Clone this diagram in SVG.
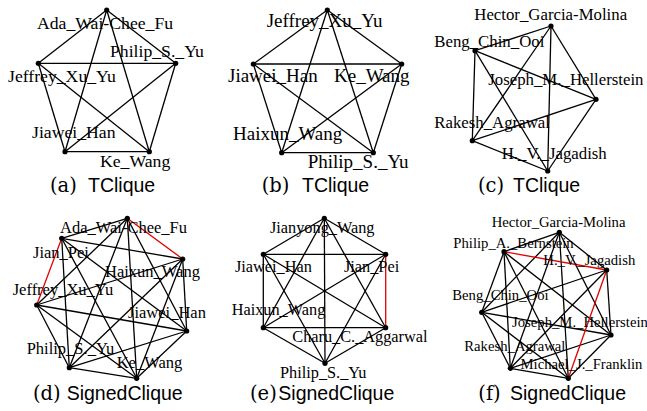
<svg xmlns="http://www.w3.org/2000/svg" width="647" height="411" viewBox="0 0 647 411">
<style>
.e{stroke:#000;stroke-width:1.3;fill:none}
.r{stroke:#e00000;stroke-width:1.3;fill:none}
.n{fill:#000}
text{font-family:"Liberation Serif",serif;fill:#000}
.la{font-size:17.7px}
.lb{font-size:19px}
.lc{font-size:16.8px}
.ld{font-size:16.5px}
.le{font-size:16.3px}
.lf{font-size:14.7px}
.cs{font-family:"DejaVu Serif",serif;font-size:19.5px}
.cn{font-family:"Liberation Sans",sans-serif;font-size:19.5px}
</style>
<rect width="647" height="411" fill="#fff"/>
<g id="connectors">
<!-- a -->
<line class="e" x1="106.7" y1="10" x2="175.7" y2="63.3"/>
<line class="e" x1="106.7" y1="10" x2="38.3" y2="63.3"/>
<line class="e" x1="106.7" y1="10" x2="65" y2="151.7"/>
<line class="e" x1="106.7" y1="10" x2="149.3" y2="151.7"/>
<line class="e" x1="175.7" y1="63.3" x2="38.3" y2="63.3"/>
<line class="e" x1="175.7" y1="63.3" x2="65" y2="151.7"/>
<line class="e" x1="175.7" y1="63.3" x2="149.3" y2="151.7"/>
<line class="e" x1="38.3" y1="63.3" x2="65" y2="151.7"/>
<line class="e" x1="38.3" y1="63.3" x2="149.3" y2="151.7"/>
<line class="e" x1="65" y1="151.7" x2="149.3" y2="151.7"/>
<!-- b -->
<line class="e" x1="327.3" y1="10" x2="401.7" y2="64"/>
<line class="e" x1="327.3" y1="10" x2="253.3" y2="64"/>
<line class="e" x1="327.3" y1="10" x2="281.7" y2="152.7"/>
<line class="e" x1="327.3" y1="10" x2="373.3" y2="152.7"/>
<line class="e" x1="401.7" y1="64" x2="253.3" y2="64"/>
<line class="e" x1="401.7" y1="64" x2="281.7" y2="152.7"/>
<line class="e" x1="401.7" y1="64" x2="373.3" y2="152.7"/>
<line class="e" x1="253.3" y1="64" x2="281.7" y2="152.7"/>
<line class="e" x1="253.3" y1="64" x2="373.3" y2="152.7"/>
<line class="e" x1="281.7" y1="152.7" x2="373.3" y2="152.7"/>
<!-- c -->
<line class="e" x1="551" y1="26" x2="475" y2="50.7"/>
<line class="e" x1="551" y1="26" x2="596" y2="99.3"/>
<line class="e" x1="551" y1="26" x2="472.3" y2="140.7"/>
<line class="e" x1="551" y1="26" x2="547.7" y2="171"/>
<line class="e" x1="475" y1="50.7" x2="596" y2="99.3"/>
<line class="e" x1="475" y1="50.7" x2="472.3" y2="140.7"/>
<line class="e" x1="475" y1="50.7" x2="547.7" y2="171"/>
<line class="e" x1="596" y1="99.3" x2="472.3" y2="140.7"/>
<line class="e" x1="596" y1="99.3" x2="547.7" y2="171"/>
<line class="e" x1="472.3" y1="140.7" x2="547.7" y2="171"/>
<!-- d -->
<line class="e" x1="127.3" y1="218.3" x2="61.7" y2="238.3"/>
<line class="e" x1="127.3" y1="218.3" x2="36.7" y2="305"/>
<line class="e" x1="127.3" y1="218.3" x2="186.7" y2="331"/>
<line class="e" x1="127.3" y1="218.3" x2="69.3" y2="367.7"/>
<line class="e" x1="127.3" y1="218.3" x2="136.7" y2="378.3"/>
<line class="e" x1="61.7" y1="238.3" x2="182.7" y2="259"/>
<line class="e" x1="61.7" y1="238.3" x2="186.7" y2="331"/>
<line class="e" x1="61.7" y1="238.3" x2="69.3" y2="367.7"/>
<line class="e" x1="61.7" y1="238.3" x2="136.7" y2="378.3"/>
<line class="e" x1="182.7" y1="259" x2="36.7" y2="305"/>
<line class="e" x1="182.7" y1="259" x2="186.7" y2="331"/>
<line class="e" x1="182.7" y1="259" x2="69.3" y2="367.7"/>
<line class="e" x1="182.7" y1="259" x2="136.7" y2="378.3"/>
<line class="e" x1="36.7" y1="305" x2="186.7" y2="331"/>
<line class="e" x1="36.7" y1="305" x2="69.3" y2="367.7"/>
<line class="e" x1="36.7" y1="305" x2="136.7" y2="378.3"/>
<line class="e" x1="186.7" y1="331" x2="69.3" y2="367.7"/>
<line class="e" x1="186.7" y1="331" x2="136.7" y2="378.3"/>
<line class="e" x1="69.3" y1="367.7" x2="136.7" y2="378.3"/>
<line class="r" x1="127.3" y1="218.3" x2="182.7" y2="259"/>
<line class="r" x1="61.7" y1="238.3" x2="36.7" y2="305"/>
<!-- e -->
<line class="e" x1="324.3" y1="218.3" x2="263.3" y2="254.3"/>
<line class="e" x1="324.3" y1="218.3" x2="385.7" y2="254.3"/>
<line class="e" x1="324.3" y1="218.3" x2="263.3" y2="327.7"/>
<line class="e" x1="324.3" y1="218.3" x2="385.7" y2="327.7"/>
<line class="e" x1="324.3" y1="218.3" x2="325" y2="363.3"/>
<line class="e" x1="263.3" y1="254.3" x2="385.7" y2="254.3"/>
<line class="e" x1="263.3" y1="254.3" x2="263.3" y2="327.7"/>
<line class="e" x1="263.3" y1="254.3" x2="385.7" y2="327.7"/>
<line class="e" x1="263.3" y1="254.3" x2="325" y2="363.3"/>
<line class="e" x1="385.7" y1="254.3" x2="263.3" y2="327.7"/>
<line class="e" x1="385.7" y1="254.3" x2="325" y2="363.3"/>
<line class="e" x1="263.3" y1="327.7" x2="385.7" y2="327.7"/>
<line class="e" x1="263.3" y1="327.7" x2="325" y2="363.3"/>
<line class="e" x1="385.7" y1="327.7" x2="325" y2="363.3"/>
<line class="r" x1="385.7" y1="254.3" x2="385.7" y2="327.7"/>
<!-- f -->
<line class="e" x1="559.3" y1="232.3" x2="504" y2="251.7"/>
<line class="e" x1="559.3" y1="232.3" x2="606.7" y2="270"/>
<line class="e" x1="559.3" y1="232.3" x2="481.7" y2="312.3"/>
<line class="e" x1="559.3" y1="232.3" x2="611" y2="335"/>
<line class="e" x1="559.3" y1="232.3" x2="510.3" y2="368.3"/>
<line class="e" x1="559.3" y1="232.3" x2="568.3" y2="378.3"/>
<line class="e" x1="504" y1="251.7" x2="481.7" y2="312.3"/>
<line class="e" x1="504" y1="251.7" x2="611" y2="335"/>
<line class="e" x1="504" y1="251.7" x2="510.3" y2="368.3"/>
<line class="e" x1="504" y1="251.7" x2="568.3" y2="378.3"/>
<line class="e" x1="606.7" y1="270" x2="481.7" y2="312.3"/>
<line class="e" x1="606.7" y1="270" x2="611" y2="335"/>
<line class="e" x1="606.7" y1="270" x2="510.3" y2="368.3"/>
<line class="e" x1="481.7" y1="312.3" x2="611" y2="335"/>
<line class="e" x1="481.7" y1="312.3" x2="510.3" y2="368.3"/>
<line class="e" x1="481.7" y1="312.3" x2="568.3" y2="378.3"/>
<line class="e" x1="611" y1="335" x2="510.3" y2="368.3"/>
<line class="e" x1="611" y1="335" x2="568.3" y2="378.3"/>
<line class="e" x1="510.3" y1="368.3" x2="568.3" y2="378.3"/>
<line class="r" x1="504" y1="251.7" x2="606.7" y2="270"/>
<line class="r" x1="606.7" y1="270" x2="568.3" y2="378.3"/>
</g>
<!-- panel a -->
<g id="a-ada"><circle class="n" cx="106.7" cy="10" r="2.6"/><text class="la" x="37" y="29">Ada_Wai-Chee_Fu</text></g>
<g id="a-philip"><circle class="n" cx="175.7" cy="63.3" r="2.6"/><text class="la" x="110" y="57">Philip_S._Yu</text></g>
<g id="a-jeffrey"><circle class="n" cx="38.3" cy="63.3" r="2.6"/><text class="la" x="8" y="82">Jeffrey_Xu_Yu</text></g>
<g id="a-jiawei"><circle class="n" cx="65" cy="151.7" r="2.6"/><text class="la" x="32" y="138">Jiawei_Han</text></g>
<g id="a-ke"><circle class="n" cx="149.3" cy="151.7" r="2.6"/><text class="la" x="100" y="167">Ke_Wang</text></g>
<text id="cap-a" y="192"><tspan class="cs" x="50">(a)</tspan><tspan class="cn" x="88">TClique</tspan></text>
<!-- panel b -->
<g id="b-jeffrey"><circle class="n" cx="327.3" cy="10" r="2.6"/><text class="lb" x="266.7" y="27">Jeffrey_Xu_Yu</text></g>
<g id="b-ke"><circle class="n" cx="401.7" cy="64" r="2.6"/><text class="lb" x="334" y="82">Ke_Wang</text></g>
<g id="b-jiawei"><circle class="n" cx="253.3" cy="64" r="2.6"/><text class="lb" x="228" y="82">Jiawei_Han</text></g>
<g id="b-haixun"><circle class="n" cx="281.7" cy="152.7" r="2.6"/><text class="lb" x="233" y="140">Haixun_Wang</text></g>
<g id="b-philip"><circle class="n" cx="373.3" cy="152.7" r="2.6"/><text class="lb" x="307.7" y="168">Philip_S._Yu</text></g>
<text id="cap-b" y="192"><tspan class="cs" x="261.7">(b)</tspan><tspan class="cn" x="302">TClique</tspan></text>
<!-- panel c -->
<g id="c-hector"><circle class="n" cx="551" cy="26" r="2.6"/><text class="lc" x="474.3" y="20">Hector_Garcia-Molina</text></g>
<g id="c-beng"><circle class="n" cx="475" cy="50.7" r="2.6"/><text class="lc" x="434.3" y="47">Beng_Chin_Ooi</text></g>
<g id="c-joseph"><circle class="n" cx="596" cy="99.3" r="2.6"/><text class="lc" x="488.3" y="85">Joseph_M._Hellerstein</text></g>
<g id="c-rakesh"><circle class="n" cx="472.3" cy="140.7" r="2.6"/><text class="lc" x="434.3" y="128">Rakesh_Agrawal</text></g>
<g id="c-hv"><circle class="n" cx="547.7" cy="171" r="2.6"/><text class="lc" x="501.7" y="159">H._V._Jagadish</text></g>
<text id="cap-c" y="192"><tspan class="cs" x="478">(c)</tspan><tspan class="cn" x="513">TClique</tspan></text>
<!-- panel d -->
<g id="d-ada"><circle class="n" cx="127.3" cy="218.3" r="2.6"/><text class="ld" x="60" y="233">Ada_Wai-Chee_Fu</text></g>
<g id="d-jian"><circle class="n" cx="61.7" cy="238.3" r="2.6"/><text class="ld" x="33" y="258">Jian_Pei</text></g>
<g id="d-haixun"><circle class="n" cx="182.7" cy="259" r="2.6"/><text class="ld" x="105" y="277">Haixun_Wang</text></g>
<g id="d-jeffrey"><circle class="n" cx="36.7" cy="305" r="2.6"/><text class="ld" x="12.7" y="295">Jeffrey_Xu_Yu</text></g>
<g id="d-jiawei"><circle class="n" cx="186.7" cy="331" r="2.6"/><text class="ld" x="128" y="318">Jiawei_Han</text></g>
<g id="d-philip"><circle class="n" cx="69.3" cy="367.7" r="2.6"/><text class="ld" x="26.7" y="354">Philip_S._Yu</text></g>
<g id="d-ke"><circle class="n" cx="136.7" cy="378.3" r="2.6"/><text class="ld" x="116.7" y="368">Ke_Wang</text></g>
<text id="cap-d" y="400"><tspan class="cs" x="33">(d)</tspan><tspan class="cn" x="66.7">SignedClique</tspan></text>
<!-- panel e -->
<g id="e-jianyong"><circle class="n" cx="324.3" cy="218.3" r="2.6"/><text class="le" x="270" y="233">Jianyong_Wang</text></g>
<g id="e-jiawei"><circle class="n" cx="263.3" cy="254.3" r="2.6"/><text class="le" x="235" y="272">Jiawei_Han</text></g>
<g id="e-jianpei"><circle class="n" cx="385.7" cy="254.3" r="2.6"/><text class="le" x="344" y="272">Jian_Pei</text></g>
<g id="e-haixun"><circle class="n" cx="263.3" cy="327.7" r="2.6"/><text class="le" x="231.7" y="315">Haixun_Wang</text></g>
<g id="e-charu"><circle class="n" cx="385.7" cy="327.7" r="2.6"/><text class="le" x="292.3" y="342">Charu_C._Aggarwal</text></g>
<g id="e-philip"><circle class="n" cx="325" cy="363.3" r="2.6"/><text class="le" x="280" y="378">Philip_S._Yu</text></g>
<text id="cap-e" y="400"><tspan class="cs" x="250">(e)</tspan><tspan class="cn" x="278.3">SignedClique</tspan></text>
<!-- panel f -->
<g id="f-hector"><circle class="n" cx="559.3" cy="232.3" r="2.6"/><text class="lf" x="491.7" y="227">Hector_Garcia-Molina</text></g>
<g id="f-philipa"><circle class="n" cx="504" cy="251.7" r="2.6"/><text class="lf" x="453.3" y="247.5">Philip_A._Bernstein</text></g>
<g id="f-hv"><circle class="n" cx="606.7" cy="270" r="2.6"/><text class="lf" x="543.3" y="265">H._V._Jagadish</text></g>
<g id="f-beng"><circle class="n" cx="481.7" cy="312.3" r="2.6"/><text class="lf" x="452.3" y="300">Beng_Chin_Ooi</text></g>
<g id="f-joseph"><circle class="n" cx="611" cy="335" r="2.6"/><text class="lf" x="512" y="326.7">Joseph_M._Hellerstein</text></g>
<g id="f-rakesh"><circle class="n" cx="510.3" cy="368.3" r="2.6"/><text class="lf" x="464.3" y="350.5">Rakesh_Agrawal</text></g>
<g id="f-michael"><circle class="n" cx="568.3" cy="378.3" r="2.6"/><text class="lf" x="520.5" y="368.5">Michael_J._Franklin</text></g>
<text id="cap-f" y="400"><tspan class="cs" x="478.3">(f)</tspan><tspan class="cn" x="510">SignedClique</tspan></text>
</svg>
